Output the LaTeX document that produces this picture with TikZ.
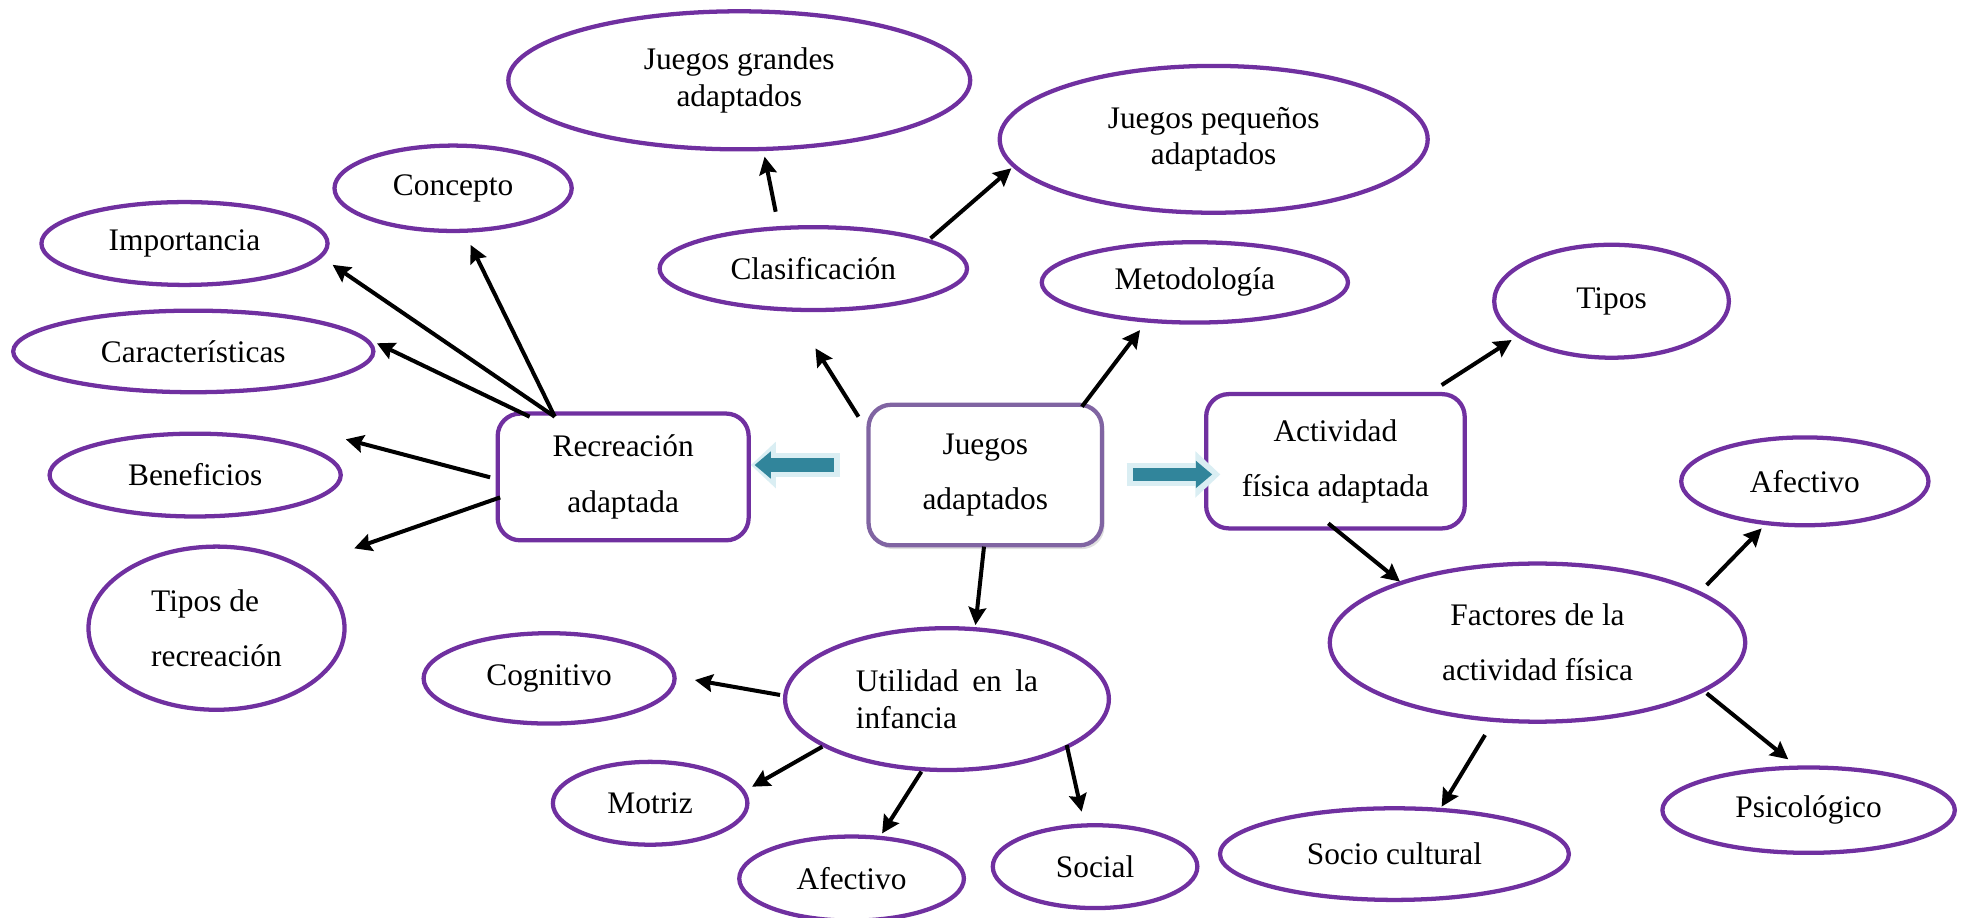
\documentclass[tikz,border=0pt]{standalone}
\usepackage{fontspec}
\setmainfont{Liberation Serif}
\usepackage{tikz}
\usetikzlibrary{arrows.meta,shapes,shadows,calc}
\definecolor{mappurple}{RGB}{112,48,160}
\definecolor{softpurple}{RGB}{128,100,162}
\definecolor{arrowteal}{RGB}{49,133,155}
\definecolor{glowblue}{RGB}{218,238,243}

\begin{document}
\begin{tikzpicture}[x=1pt,y=-1pt,
    font=\fontsize{25}{44}\selectfont,
    box/.style={rectangle,draw=mappurple,fill=white,line width=3.4pt,rounded corners=18pt,align=center,inner sep=0pt},
    oval/.style={ellipse,draw=mappurple,fill=white,line width=3.4pt,align=center,inner sep=0pt},
    tight/.style={font=\fontsize{25}{29}\selectfont},
    link/.style={-{Stealth[length=14pt,width=14pt,inset=2pt]},line width=3.2pt},
    glow/.style={glowblue,line width=19pt,-{Triangle[length=20pt,width=36pt]}},
    fat/.style={arrowteal,line width=11pt,-{Triangle[length=13pt,width=21pt]}}]

    \useasboundingbox (0,0) rectangle (1568,731);

    % Central boxes
    \node[box,draw=softpurple,drop shadow={shadow xshift=2pt,shadow yshift=-3pt,opacity=0.25},minimum width=186pt,minimum height=112pt] (juegos) at (785,378.5) {Juegos\\adaptados};
    \node[box,minimum width=200pt,minimum height=101pt] (rec) at (496.5,380) {Recreación\\adaptada};
    \node[box,minimum width=206pt,minimum height=107pt] (act) at (1064,367.5) {Actividad\\física adaptada};

    % Top
    \node[oval,tight,minimum width=368pt,minimum height=110pt] (grandes) at (589,64) {Juegos grandes\\adaptados};
    \node[oval,tight,minimum width=341pt,minimum height=117pt] (pequenos) at (967,111) {Juegos pequeños\\adaptados};
    \node[oval,minimum width=245pt,minimum height=66pt] (clasif) at (648,214) {Clasificación};
    \node[oval,minimum width=244pt,minimum height=64pt] (metodo) at (952,225) {Metodología};

    % Left branch
    \node[oval,minimum width=189pt,minimum height=68pt] (concepto) at (361,150) {Concepto};
    \node[oval,minimum width=228pt,minimum height=66pt] (importancia) at (147,194) {Importancia};
    \node[oval,minimum width=287pt,minimum height=65pt] (caract) at (154,280) {Características};
    \node[oval,minimum width=232pt,minimum height=66pt] (benef) at (155.5,378.5) {Beneficios};
    \node[oval,align=left,minimum width=204pt,minimum height=130pt] (tiposrec) at (172.5,500.5) {Tipos de\\recreación};

    % Bottom branch
    \node[oval,tight,align=left,minimum width=258pt,minimum height=113pt] (utilidad) at (754.5,557) {\makebox[145pt][s]{Utilidad en la}\\infancia};
    \node[oval,minimum width=200pt,minimum height=72pt] (cognitivo) at (437.5,540.5) {Cognitivo};
    \node[oval,minimum width=155pt,minimum height=66pt] (motriz) at (518,640) {Motriz};
    \node[oval,minimum width=179pt,minimum height=67pt] (afecB) at (678.5,700) {Afectivo};
    \node[oval,minimum width=163pt,minimum height=66pt] (social) at (872.5,690.5) {Social};

    % Right branch
    \node[oval,minimum width=187pt,minimum height=90pt] (tipos) at (1284,240) {Tipos};
    \node[oval,minimum width=331pt,minimum height=126pt] (factores) at (1225,512) {Factores de la\\actividad física};
    \node[oval,minimum width=197pt,minimum height=70pt] (afecR) at (1438,383.5) {Afectivo};
    \node[oval,minimum width=233pt,minimum height=68pt] (psico) at (1441,645.5) {Psicológico};
    \node[oval,minimum width=278pt,minimum height=73pt] (socio) at (1111,680.5) {Socio cultural};

    % Block arrows
    \draw[glow] ($(juegos.west)+(-21,-8)$) -- ($(rec.east)+(0,-9.5)$);
    \draw[fat] ($(juegos.west)+(-26,-8)$) -- ($(rec.east)+(3,-9.5)$);
    \draw[glow] ($(juegos.east)+(18,-0.5)$) -- ($(act.west)+(13,10.5)$);
    \draw[fat] ($(juegos.east)+(23,-0.5)$) -- ($(act.west)+(6.5,10.5)$);

    % Arrows from the centre
    \draw[link] ($(juegos)+(-101,-46.5)$) -- ($(clasif)+(1.7,63.5)$);
    \draw[link] ($(juegos)+(77,-54.5)$) -- ($(metodo)+(-43.7,38)$);
    \draw[link] ($(juegos)+(-1,57)$) -- ($(utilidad)+(22.7,-59)$);
    \draw[link] ($(clasif)+(-30,-45.3)$) -- ($(grandes)+(20.2,60.8)$);
    \draw[link] ($(clasif)+(93.4,-24.1)$) -- ($(pequenos)+(-161.2,23.1)$);

    % Recreacion arrows
    \draw[link] ($(rec)+(-54.5,-48)$) -- ($(importancia)+(118,17)$);
    \draw[link] ($(rec)+(-54.5,-48)$) -- ($(concepto)+(14,45.2)$);
    \draw[link] ($(rec)+(-74.5,-48)$) -- ($(caract)+(146.3,-6.5)$);
    \draw[link] ($(rec)+(-106,0.3)$) -- ($(benef)+(120,-28.5)$);
    \draw[link] ($(rec)+(-98,16.3)$) -- ($(tiposrec)+(109.7,-63.6)$);

    % Actividad arrows
    \draw[link] ($(act)+(84.6,-60.7)$) -- ($(tipos)+(-79.6,30.9)$);
    \draw[link] ($(act)+(-5.7,49.5)$) -- ($(factores)+(-109.6,-48.6)$);
    \draw[link] ($(factores)+(134.8,-45.9)$) -- ($(afecR)+(-34.4,37.5)$);
    \draw[link] ($(factores)+(134.8,40.4)$) -- ($(psico)+(-16.2,-40.5)$);
    \draw[link] ($(factores)+(-41.8,73.6)$) -- ($(socio)+(37.6,-37.8)$);

    % Utilidad arrows
    \draw[link] ($(utilidad)+(-133,-3.3)$) -- ($(cognitivo)+(116.2,1.3)$);
    \draw[link] ($(utilidad)+(-99.3,37.9)$) -- ($(motriz)+(81.2,-13.2)$);
    \draw[link] ($(utilidad)+(-20.4,57.8)$) -- ($(afecB)+(24.3,-36)$);
    \draw[link] ($(utilidad)+(95.4,36.6)$) -- ($(social)+(-10.7,-43.8)$);
\end{tikzpicture}
\end{document}
